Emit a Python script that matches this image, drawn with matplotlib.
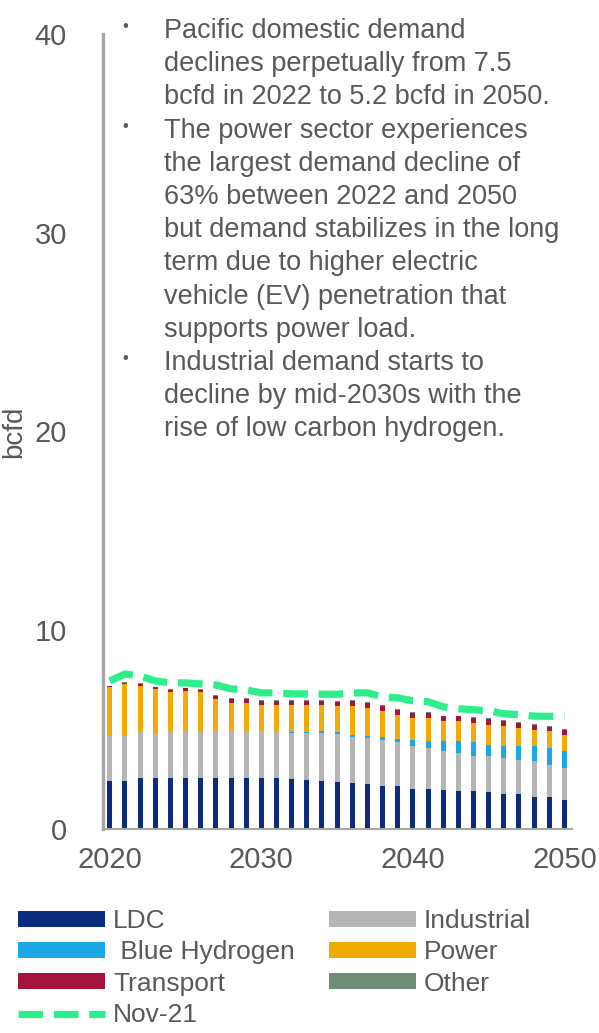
import matplotlib
matplotlib.use("Agg")
import matplotlib.pyplot as plt
import numpy as np

plt.rcParams['font.family'] = ['Liberation Sans', 'DejaVu Sans']

years = list(range(2020, 2051))
ldc = [2.39, 2.39, 2.56, 2.56, 2.56, 2.56, 2.56, 2.56, 2.56, 2.56, 2.56, 2.56, 2.50, 2.47, 2.42,
       2.34, 2.30, 2.27, 2.14, 2.14, 2.00, 2.00, 1.97, 1.90, 1.90, 1.86, 1.77, 1.77, 1.63, 1.63, 1.47]
industrial = [2.31, 2.31, 2.31, 2.29, 2.31, 2.34, 2.34, 2.36, 2.36, 2.36, 2.36, 2.31, 2.35, 2.38, 2.43,
              2.46, 2.33, 2.31, 2.32, 2.22, 2.16, 2.07, 1.93, 1.92, 1.79, 1.79, 1.80, 1.71, 1.77, 1.60, 1.59]
blue_hydrogen = [0, 0, 0, 0, 0, 0, 0, 0, 0, 0, 0, 0.02, 0.03, 0.05, 0.06,
                 0.10, 0.12, 0.12, 0.15, 0.17, 0.32, 0.38, 0.51, 0.59, 0.67, 0.59, 0.62, 0.71, 0.76, 0.84, 0.84]
power = [2.42, 2.60, 2.35, 2.17, 2.00, 2.05, 1.97, 1.63, 1.44, 1.44, 1.34, 1.37, 1.38, 1.36, 1.35,
         1.28, 1.43, 1.39, 1.32, 1.23, 1.11, 1.14, 1.01, 1.01, 0.98, 1.01, 0.98, 0.89, 0.84, 0.85, 0.85]
transport = [0.05, 0.05, 0.07, 0.10, 0.12, 0.12, 0.12, 0.15, 0.17, 0.17, 0.17, 0.17, 0.17, 0.17, 0.20,
             0.22, 0.25, 0.25, 0.26, 0.25, 0.25, 0.25, 0.25, 0.25, 0.25, 0.27, 0.25, 0.26, 0.22, 0.22, 0.25]
other = [0.04] * 31
nov21 = [7.45, 7.80, 7.70, 7.45, 7.35, 7.35, 7.30, 7.25, 7.05, 7.00, 6.85, 6.85, 6.80, 6.80, 6.78,
         6.78, 6.85, 6.85, 6.65, 6.60, 6.45, 6.40, 6.15, 6.05, 6.00, 5.95, 5.80, 5.75, 5.68, 5.67, 5.67]

series_names = ["LDC", "Industrial", " Blue Hydrogen", "Power", "Transport", "Other"]
series_vals = [ldc, industrial, blue_hydrogen, power, transport, other]
colors = ["#0B2C7D", "#B5B5B5", "#1AA7E6", "#F2AA05", "#A5143C", "#6E8F76"]

bullet_lines = ["Pacific domestic demand", "declines perpetually from 7.5",
                "bcfd in 2022 to 5.2 bcfd in 2050.", "The power sector experiences",
                "the largest demand decline of", "63% between 2022 and 2050",
                "but demand stabilizes in the long", "term due to higher electric",
                "vehicle (EV) penetration that", "supports power load.",
                "Industrial demand starts to", "decline by mid-2030s with the",
                "rise of low carbon hydrogen."]
bullet_starts = [0, 3, 10]

W, H = 599, 1033
fig = plt.figure(figsize=(W / 100, H / 100), dpi=100)
ax = fig.add_axes([103 / W, 1 - 829 / H, (572 - 103) / W, (829 - 34) / H])

txtc = "#595959"
bottom = np.zeros(len(years))
handles = {}
for name, vals, c in zip(series_names, series_vals, colors):
    b = ax.bar(years, vals, bottom=bottom, width=0.33, color=c, linewidth=0)
    handles[name] = b
    bottom += np.array(vals)

ln, = ax.plot(years, nov21, color="#2DEE8A", lw=5.2, dashes=(3.4, 1.5))

ax.set_xlim(2019.55, 2050.5)
ax.set_ylim(0, 40)
ax.set_yticks([0, 10, 20, 30, 40])
ax.set_xticks([2020, 2030, 2040, 2050])
ax.tick_params(axis='both', length=0, labelsize=21, colors=txtc)
ax.tick_params(axis='y', pad=26)
ax.tick_params(axis='x', pad=12)
for s in ["top", "right"]:
    ax.spines[s].set_visible(False)
ax.spines["left"].set_color("#A6A6A6")
ax.spines["left"].set_linewidth(2.4)
ax.spines["bottom"].set_color("#A6A6A6")
ax.spines["bottom"].set_linewidth(1.5)

fig.text(14 / W, 1 - 432 / H, "bcfd", rotation=90, ha="center", va="center",
         fontsize=20, color=txtc)

for i, line in enumerate(bullet_lines):
    y = 1 - (31 + i * 33.2) / H
    fig.text(164 / W, y, line, ha="left", va="center", fontsize=19.5, color=txtc)
    if i in bullet_starts:
        fig.text(122 / W, y + 4 / H, "•", ha="left", va="center", fontsize=12, color=txtc)

order = ["LDC", " Blue Hydrogen", "Transport", None, "Industrial", "Power", "Other"]
hs, ls = [], []
for n in order:
    if n is None:
        hs.append(ln); ls.append("Nov-21")
    else:
        hs.append(handles[n]); ls.append(n)
leg = fig.legend(hs, ls, ncol=2, loc="upper left", bbox_to_anchor=(18 / W, 1 - 909 / H),
                 frameon=False, fontsize=19, handlelength=3.3, handleheight=0.55,
                 handletextpad=0.3, columnspacing=1.3, labelspacing=0.28,
                 borderpad=0, borderaxespad=0)
for t in leg.get_texts():
    t.set_color(txtc)

fig.savefig("out.png", dpi=100)
